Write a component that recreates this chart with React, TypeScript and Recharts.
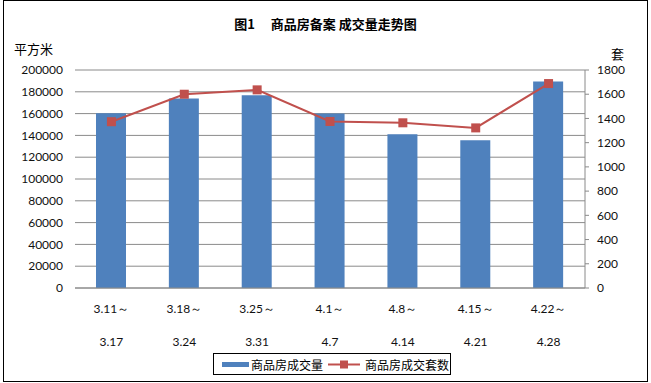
import React from "react";
import {
	Bar,
	CartesianGrid,
	ComposedChart,
	Legend,
	Line,
	XAxis,
	YAxis,
} from "recharts";

const weekStart = ["3.11～", "3.18～", "3.25～", "4.1～", "4.8～", "4.15～", "4.22～"];
const weekEnd = ["3.17", "3.24", "3.31", "4.7", "4.14", "4.21", "4.28"];
const areaSold = [160300, 173800, 176800, 160000, 141000, 135500, 189400];
const unitsSold = [1373, 1600, 1636, 1375, 1364, 1322, 1688];
const leftTicks = [0, 20000, 40000, 60000, 80000, 100000, 120000, 140000, 160000, 180000, 200000];
const rightTicks = [0, 200, 400, 600, 800, 1000, 1200, 1400, 1600, 1800];

const data = weekStart.map((s, i) => ({
	week: i,
	area: areaSold[i],
	units: unitsSold[i],
}));

const BLUE = "#4f81bd";
const RED = "#c0504d";
const GRID = "#8a8a8a";
const CN = '"Noto Sans CJK SC", sans-serif';
const NUM = 'Lato, "Noto Sans", sans-serif';

const WeekTick = (props: any) => {
	const { x, y, payload } = props;
	const i = payload.value;
	return (
		<g>
			<text x={x} y={y + 25} textAnchor="middle" fontSize={12} fontFamily={NUM} fill="#111">
				{weekStart[i]}
			</text>
			<text x={x} y={y + 58} textAnchor="middle" fontSize={12} fontFamily={NUM} fill="#111">
				{weekEnd[i]}
			</text>
		</g>
	);
};

const SquareDot = (props: any) => {
	const { cx, cy, index } = props;
	return <rect key={index} x={cx - 4.5} y={cy - 4.5} width={9} height={9} fill={RED} />;
};

const LegendBox = () => (
	<div
		style={{
			border: "1px solid #000",
			width: 236,
			height: 20,
			display: "flex",
			alignItems: "center",
			fontFamily: CN,
			fontSize: 12,
			color: "#000",
			boxSizing: "content-box",
		}}
	>
		<svg width={36} height={20}>
			<rect x={8} y={8} width={27} height={5} fill={BLUE} />
		</svg>
		<span style={{ marginLeft: 1 }}>商品房成交量</span>
		<svg width={38} height={20} style={{ marginLeft: 4 }}>
			<line x1={1} y1={10.5} x2={33} y2={10.5} stroke={RED} strokeWidth={2} />
			<rect x={13} y={6.5} width={8} height={8} fill={RED} />
		</svg>
		<span>商品房成交套数</span>
	</div>
);

export default function App() {
	return (
		<div style={{ position: "absolute", left: 0, top: 0, width: 651, height: 383, background: "#fff" }}>
			<div
				style={{
					position: "absolute",
					left: 3,
					top: 0,
					width: 643,
					height: 380,
					border: "1px solid #000",
				}}
			/>
			<div
				style={{
					position: "absolute",
					left: 0,
					top: 14,
					width: 651,
					textAlign: "center",
					fontFamily: CN,
					fontWeight: "bold",
					fontSize: 13,
					whiteSpace: "pre",
				}}
			>
				图1　 商品房备案 成交量走势图
			</div>
			<div style={{ position: "absolute", left: 14, top: 39, fontFamily: CN, fontSize: 13 }}>平方米</div>
			<div style={{ position: "absolute", left: 611, top: 44, fontFamily: CN, fontSize: 13 }}>套</div>
			<ComposedChart
				width={651}
				height={383}
				data={data}
				margin={{ top: 70, right: 6, left: 5, bottom: 13 }}
				barSize={30}
				style={{ position: "absolute", left: 0, top: 0 }}
			>
				<CartesianGrid vertical={false} stroke={GRID} yAxisId="left" />
				<XAxis
					dataKey="week"
					type="category"
					height={60}
					tickLine={false}
					axisLine={{ stroke: GRID }}
					tickSize={0}
					tickMargin={0}
					interval={0}
					tick={<WeekTick />}
				/>
				<YAxis
					yAxisId="left"
					orientation="left"
					width={70}
					domain={[0, 200000]}
					ticks={leftTicks}
					interval={0}
					axisLine={false}
					tickLine={false}
					tickSize={0}
					tickMargin={12}
					tick={{ fontSize: 12, fontFamily: NUM, fill: "#111" }}
				/>
				<YAxis
					yAxisId="right"
					orientation="right"
					width={60}
					domain={[0, 1800]}
					ticks={rightTicks}
					interval={0}
					axisLine={{ stroke: GRID }}
					tickLine={{ stroke: GRID }}
					tickSize={4}
					tickMargin={8}
					tick={{ fontSize: 12, fontFamily: NUM, fill: "#111", textAnchor: "start" }}
				/>
				<Legend
					verticalAlign="bottom"
					content={<LegendBox />}
					wrapperStyle={{ position: "absolute", left: 213, top: 353, width: 238, height: 22 }}
				/>
				<Bar yAxisId="left" dataKey="area" name="商品房成交量" fill={BLUE} isAnimationActive={false} />
				<Line
					yAxisId="right"
					dataKey="units"
					name="商品房成交套数"
					stroke={RED}
					strokeWidth={2}
					dot={<SquareDot />}
					activeDot={false}
					isAnimationActive={false}
				/>
			</ComposedChart>
		</div>
	);
}
